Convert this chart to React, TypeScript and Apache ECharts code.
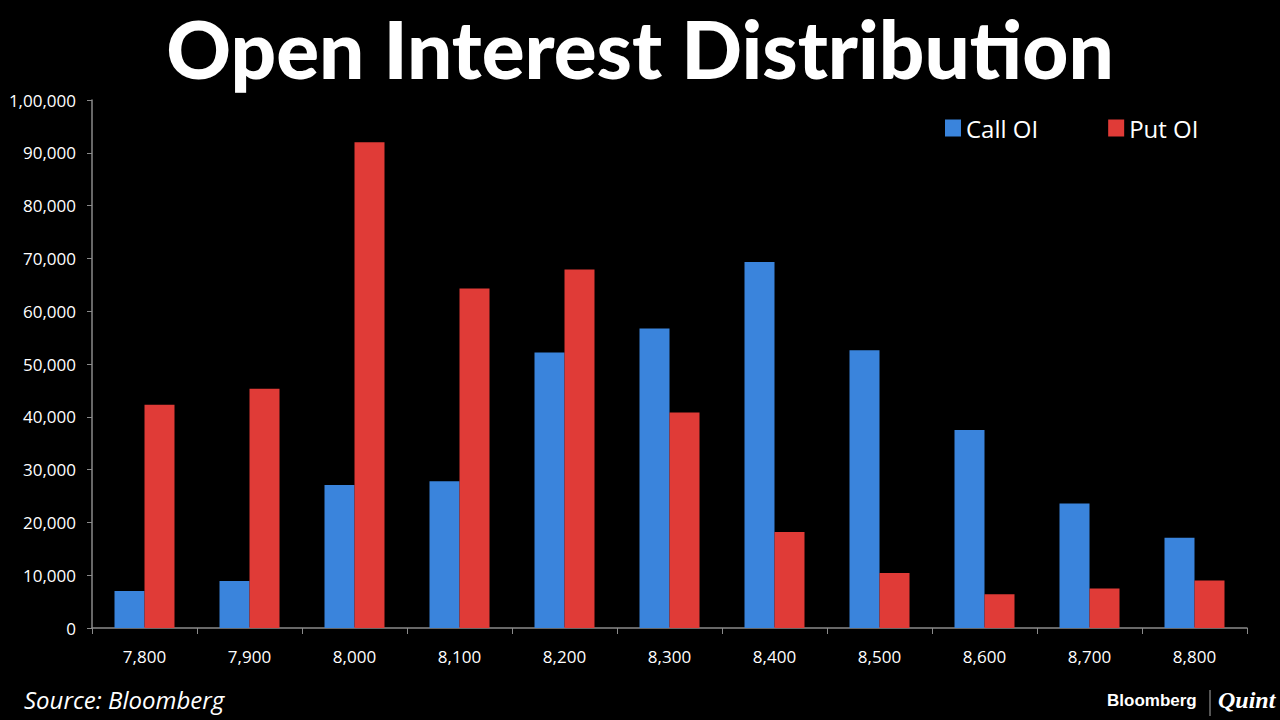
import React, { useEffect, useRef } from "react";
import * as echarts from "echarts";

const categories = ["7,800", "7,900", "8,000", "8,100", "8,200", "8,300", "8,400", "8,500", "8,600", "8,700", "8,800"];
const callOI = [7000, 8900, 27100, 27800, 52200, 56700, 69300, 52600, 37500, 23600, 17100];
const putOI = [42300, 45300, 92000, 64300, 67900, 40800, 18200, 10400, 6400, 7500, 9000];
const seriesNames = ["Call OI", "Put OI"];

function indianFormat(v: number): string {
  const s = String(Math.round(v));
  if (s.length <= 3) return s;
  const last3 = s.slice(-3);
  let rest = s.slice(0, -3);
  const parts: string[] = [];
  while (rest.length > 2) {
    parts.unshift(rest.slice(-2));
    rest = rest.slice(0, -2);
  }
  if (rest.length) parts.unshift(rest);
  return parts.join(",") + "," + last3;
}

export default function App() {
  const ref = useRef<HTMLDivElement>(null);
  useEffect(() => {
    if (!ref.current) return;
    const chart = echarts.init(ref.current, undefined, { renderer: "svg" });
    const font = "'Open Sans', 'DejaVu Sans', sans-serif";
    chart.setOption({
      animation: false,
      backgroundColor: "#000000",
      title: {
        text: "Open Interest Distribution",
        left: "center",
        top: 4,
        padding: 0,
        textStyle: { color: "#ffffff", fontSize: 80, lineHeight: 88, fontWeight: 900, fontFamily: "Lato, sans-serif" },
      },
      legend: {
        data: seriesNames,
        left: 940,
        top: 111,
        itemWidth: 16,
        itemHeight: 17,
        itemGap: 70,
        icon: "rect",
        textStyle: { color: "#ffffff", fontSize: 24, fontFamily: font, padding: [0, 0, 0, 0] },
      },
      grid: { left: 92, right: 33, top: 100, bottom: 92 },
      xAxis: {
        type: "category",
        data: categories,
        axisLine: { lineStyle: { color: "#8a8a8a", width: 1.5 } },
        axisTick: { show: true, length: 6, alignWithLabel: false, lineStyle: { color: "#8a8a8a" } },
        axisLabel: { color: "#ffffff", fontSize: 17, fontFamily: font, margin: 20 },
      },
      yAxis: {
        type: "value",
        min: 0,
        max: 100000,
        interval: 10000,
        axisLine: { show: true, lineStyle: { color: "#8a8a8a", width: 1.5 } },
        axisTick: { show: true, length: 5, lineStyle: { color: "#8a8a8a" } },
        splitLine: { show: false },
        axisLabel: { color: "#ffffff", fontSize: 17, fontFamily: font, margin: 16, formatter: (v: number) => indianFormat(v) },
      },
      series: [
        { name: seriesNames[0], type: "bar", data: callOI, itemStyle: { color: "#3A84DC" }, barWidth: 30, barGap: "0%" },
        { name: seriesNames[1], type: "bar", data: putOI, itemStyle: { color: "#E03B37" }, barWidth: 30, barGap: "0%" },
      ],
      graphic: [
        {
          type: "text",
          left: 24,
          top: 687,
          style: { text: "Source: Bloomberg", fill: "#ffffff", fontSize: 24, fontStyle: "italic", fontFamily: font },
        },
        {
          type: "text",
          left: 1107,
          top: 692,
          style: { text: "Bloomberg", fill: "#ffffff", fontSize: 17, fontWeight: "bold", fontFamily: "'Liberation Sans', Arial, sans-serif" },
        },
        {
          type: "line",
          shape: { x1: 1210, y1: 690, x2: 1210, y2: 716 },
          style: { stroke: "#aaaaaa", lineWidth: 1 },
        },
        {
          type: "text",
          left: 1218,
          top: 688,
          style: { text: "Quint", fill: "#ffffff", fontSize: 24, fontStyle: "italic", fontWeight: "bold", fontFamily: "'Liberation Serif', 'DejaVu Serif', serif" },
        },
      ],
    });
    return () => chart.dispose();
  }, []);
  return <div ref={ref} style={{ position: "fixed", left: 0, top: 0, width: 1280, height: 720 }} />;
}
